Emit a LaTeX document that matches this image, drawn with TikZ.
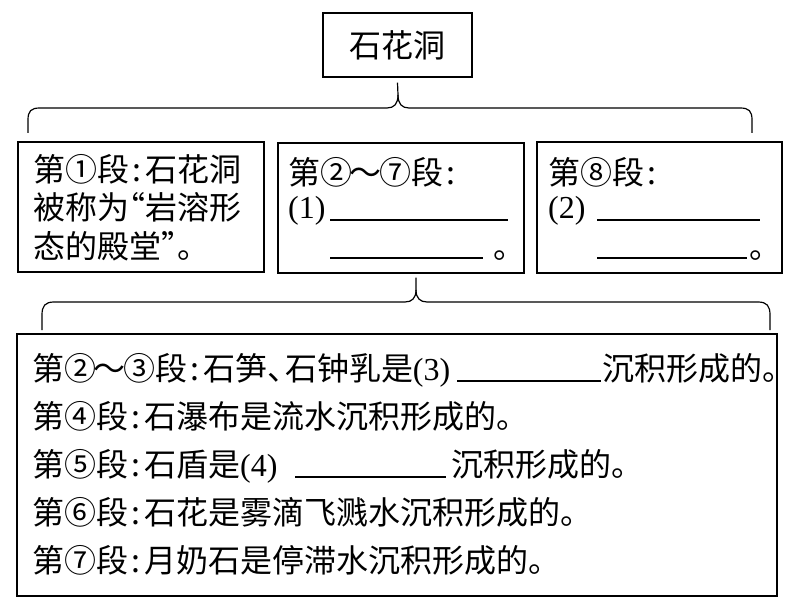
\documentclass[tikz,border=0pt]{standalone}
\usepackage{fontspec}
\setmainfont{Liberation Serif}
\newfontfamily\cjk{Noto Sans CJK SC}
\newcommand\mycolon{\makebox[0.5em]{:}}
\newcommand\mytilde{\makebox[0.85em]{～}}
\newcommand\mydun{\makebox[0.55em][l]{、}}
\newcommand\myoq{\makebox[0.5em][r]{“}}
\newcommand\mycq{\makebox[0.5em][l]{”}}
\begin{document}
\begin{tikzpicture}[x=1pt,y=-1pt,
  box/.style={draw, line width=1.4pt, inner sep=0pt},
  brace/.style={draw, line width=1.2pt},
  txt/.style={anchor=base west, inner sep=0pt, font=\cjk\fontsize{32}{36}\selectfont},
  blank/.style={line width=1.1pt}]
\useasboundingbox (0,0) rectangle (801,604);
% boxes
\node[box, minimum width=149pt, minimum height=64pt, font=\cjk\fontsize{32}{36}\selectfont] (top) at (397.5,45) {石花洞};
\node[box, minimum width=246pt, minimum height=130pt] (b1) at (141,207) {};
\node[box, minimum width=246pt, minimum height=130pt] (b2) at (401,208) {};
\node[box, minimum width=245pt, minimum height=131pt] (b3) at (659.5,207.5) {};
\node[box, minimum width=760pt, minimum height=262pt] (b4) at (397,465) {};
% top brace
\coordinate (tstem) at ([yshift=-5pt]top.south);
\coordinate (tl) at (28,133);
\coordinate (tr) at (752,133);
\draw[brace] (tl) -- (28,120) .. controls (28,111) and (31,108) .. (40,108) -- (387,108)
  .. controls (394,108) and (398,104) .. (398,95) -- (tstem);
\draw[brace] (tr) -- (752,120) .. controls (752,111) and (749,108) .. (740,108) -- (409,108)
  .. controls (402,108) and (398,104) .. (398,95);
% bottom brace
\coordinate (bstem) at ([xshift=15pt,yshift=-4pt]b2.south);
\coordinate (bl) at (42,330);
\coordinate (br) at (770,330);
\draw[brace] (bl) -- (42,315) .. controls (42,306) and (45,302) .. (54,302) -- (405,302)
  .. controls (412,302) and (416,298) .. (416,290) -- (bstem);
\draw[brace] (br) -- (770,315) .. controls (770,306) and (767,302) .. (758,302) -- (427,302)
  .. controls (420,302) and (416,298) .. (416,290);
% box 1 text
\node[txt] (t11) at (33,182) {第①段\mycolon 石花洞};
\node[txt] (t12) at (33,220) {被称为\myoq 岩溶形};
\node[txt] (t13) at (33,259) {态的殿堂\mycq 。};
% box 2 text
\node[txt] (t21) at (288,185) {第②\mytilde ⑦段\mycolon};
\node[txt] (t22) at (288,219) {\rmfamily(1)};
\draw[blank] (330,220) coordinate (u1a) -- (508,220) coordinate (u1b);
\draw[blank] (330,258) coordinate (u2a) -- (483,258) coordinate (u2b);
\node[txt] (t23) at (493,259) {。};
% box 3 text
\node[txt] (t31) at (548,185) {第⑧段\mycolon};
\node[txt] (t32) at (548,219) {\rmfamily(2)};
\draw[blank] (597,220) coordinate (u3a) -- (760,220) coordinate (u3b);
\draw[blank] (597,258) coordinate (u4a) -- (747,258) coordinate (u4b);
\node[txt] (t33) at (749,259) {。};
% bottom text
\node[txt] (l1) at (32,380) {第②\mytilde ③段\mycolon 石笋\mydun 石钟乳是{\rmfamily(3)}};
\draw[blank] (457,381) coordinate (u5a) -- (601,381) coordinate (u5b);
\node[txt] (l1b) at (602,380) {沉积形成的。};
\node[txt] (l2) at (32,428) {第④段\mycolon 石瀑布是流水沉积形成的。};
\node[txt] (l3) at (32,476) {第⑤段\mycolon 石盾是{\rmfamily(4)}};
\draw[blank] (295,477) coordinate (u6a) -- (446,477) coordinate (u6b);
\node[txt] (l3b) at (451,476) {沉积形成的。};
\node[txt] (l4) at (32,524) {第⑥段\mycolon 石花是雾滴飞溅水沉积形成的。};
\node[txt] (l5) at (32,572) {第⑦段\mycolon 月奶石是停滞水沉积形成的。};
\end{tikzpicture}
\end{document}
